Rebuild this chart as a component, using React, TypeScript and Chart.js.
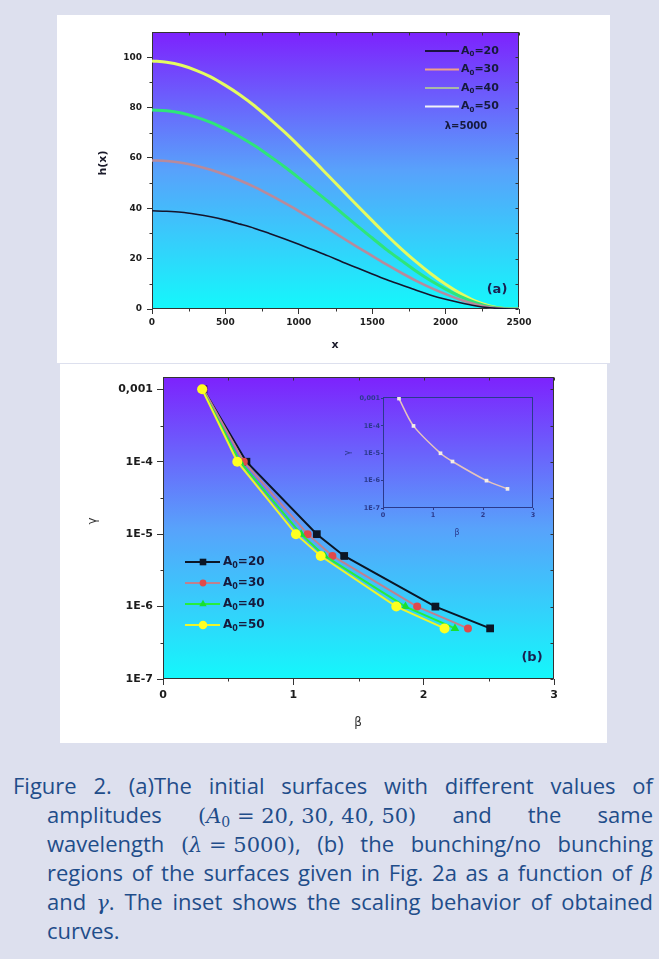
import React, { useEffect, useRef } from 'react';
import { Chart, registerables } from 'chart.js';
Chart.register(...registerables);

// ---------------- Panel (a) data ----------------
const xA = [0, 100, 200, 300, 400, 500, 600, 700, 800, 900, 1000, 1100, 1200, 1300, 1400, 1500, 1600, 1700, 1800, 1900, 2000, 2100, 2200, 2300, 2400, 2500];
const hA20 = [39, 38.8, 38.4, 37.6, 36.6, 35.3, 33.7, 32.0, 30.0, 27.9, 25.7, 23.4, 21.1, 18.6, 16.3, 13.9, 11.6, 9.5, 7.4, 5.5, 3.9, 2.5, 1.3, 0.5, 0.1, 0];
const hA30 = [59, 58.8, 58.1, 56.9, 55.3, 53.3, 51.0, 48.4, 45.4, 42.2, 38.9, 35.4, 31.9, 28.2, 24.6, 21.1, 17.6, 14.3, 11.2, 8.4, 5.9, 3.7, 1.9, 0.7, 0.1, 0];
const hA40 = [79, 78.7, 77.8, 76.2, 74.1, 71.4, 68.3, 64.8, 60.8, 56.6, 52.1, 47.4, 42.7, 37.8, 32.9, 28.2, 23.5, 19.2, 15.0, 11.2, 7.9, 5.0, 2.6, 0.9, 0.2, 0];
const hA50 = [98.5, 98, 96.8, 94.8, 92.2, 88.8, 85, 80.6, 75.6, 70.4, 64.8, 59, 53, 47, 41, 35.1, 29.3, 23.8, 18.7, 14, 9.8, 6.2, 3.2, 1.2, 0.2, 0];
const amplitudes = [20, 30, 40, 50];
const xTicksA = [0, 500, 1000, 1500, 2000, 2500];
const xMinorA = [250, 750, 1250, 1750, 2250];
const yTicksA = [0, 20, 40, 60, 80, 100];
const yMinorA = [10, 30, 50, 70, 90];

// ---------------- Panel (b) data ----------------
const betaA20 = [0.31, 0.64, 1.18, 1.39, 2.09, 2.51];
const betaA30 = [0.31, 0.62, 1.11, 1.30, 1.95, 2.34];
const betaA40 = [0.30, 0.59, 1.06, 1.24, 1.86, 2.24];
const betaA50 = [0.30, 0.57, 1.02, 1.21, 1.79, 2.16];
const gammaLevels = [1e-3, 1e-4, 1e-5, 5e-6, 1e-6, 5e-7];
const betaTicks = [0, 1, 2, 3];
const betaMinor = [0.5, 1.5, 2.5];
const gammaTickValues = [1e-7, 1e-6, 1e-5, 1e-4, 1e-3];
const gammaTickLabels = ['1E-7', '1E-6', '1E-5', '1E-4', '0,001'];
const gammaMinor = [3.16e-7, 3.16e-6, 3.16e-5, 3.16e-4];

// ---------------- Inset data ----------------
const betaInset = [0.32, 0.61, 1.15, 1.39, 2.07, 2.49];
const gammaInset = [1e-3, 1e-4, 1e-5, 5e-6, 1e-6, 5e-7];

// ---------------- styles ----------------
const styleA = [
  { line: '#15142c', width: 1.6 },
  { line: '#b88a9c', width: 2.6 },
  { line: '#2ee57a', width: 3 },
  { line: '#e4fb62', width: 3 },
];
const legendLineColorsA = ['#1a1240', '#f0a08a', '#a8b8a8', '#f2f2f6'];
const styleB = [
  { line: '#0b1626', fill: '#0b1626', shape: 'rect', r: 5.5, order: 3 },
  { line: '#c0808e', fill: '#e04a4a', shape: 'circle', r: 4, order: 2 },
  { line: '#26ee3c', fill: '#18e030', shape: 'triangle', r: 5, order: 1 },
  { line: '#eef52a', fill: '#ffff22', shape: 'circle', r: 5, order: 0 },
];

type Pt = { x: number; y: number };
const zip = (xs: number[], ys: number[]): Pt[] => xs.map((x, i) => ({ x, y: ys[i] }));

const GRAD: [number, string][] = [[0, '#7d22fd'], [0.5, '#58a2fb'], [1, '#14f8fb']];

function gradientPlugin(stops: [number, string][]) {
  return {
    id: 'gradientBg',
    beforeDraw(chart: any) {
      const { ctx, chartArea: a } = chart;
      const g = ctx.createLinearGradient(0, a.top, 0, a.bottom);
      stops.forEach(([o, c]) => g.addColorStop(o, c));
      ctx.save();
      ctx.fillStyle = g;
      ctx.fillRect(a.left, a.top, a.right - a.left, a.bottom - a.top);
      ctx.restore();
    },
  };
}

function framePlugin(o: { color: string; xMajor: number[]; xMinor: number[]; yMajor: number[]; yMinor: number[]; outMinor: number; inLen: number }) {
  return {
    id: 'frame',
    beforeDatasetsDraw(chart: any) {
      const { ctx, chartArea: a, scales } = chart;
      const xs = scales.x, ys = scales.y;
      const L = Math.round(a.left) + 0.5, R = Math.round(a.right) - 0.5;
      const T = Math.round(a.top) + 0.5, B = Math.round(a.bottom) - 0.5;
      ctx.save();
      ctx.strokeStyle = o.color;
      ctx.lineWidth = 1;
      ctx.strokeRect(L, T, R - L, B - T);
      ctx.beginPath();
      o.xMinor.forEach((v) => {
        const px = Math.round(xs.getPixelForValue(v)) + 0.5;
        ctx.moveTo(px, B); ctx.lineTo(px, B + o.outMinor);
      });
      o.yMinor.forEach((v) => {
        const py = Math.round(ys.getPixelForValue(v)) + 0.5;
        ctx.moveTo(L, py); ctx.lineTo(L - o.outMinor, py);
      });
      if (o.inLen > 0) {
        [...o.xMajor, ...o.xMinor].forEach((v) => {
          const px = Math.round(xs.getPixelForValue(v)) + 0.5;
          ctx.moveTo(px, T); ctx.lineTo(px, T + o.inLen);
        });
        [...o.yMajor, ...o.yMinor].forEach((v) => {
          const py = Math.round(ys.getPixelForValue(v)) + 0.5;
          ctx.moveTo(R, py); ctx.lineTo(R - o.inLen, py);
        });
      }
      ctx.stroke();
      ctx.restore();
    },
  };
}

type TextItem = { text: string; x: number; y: number; font: string; color: string; rotate?: number };
function textPlugin(items: TextItem[]) {
  return {
    id: 'texts',
    afterDraw(chart: any) {
      const ctx = chart.ctx;
      items.forEach((t) => {
        ctx.save();
        ctx.translate(t.x, t.y);
        if (t.rotate) ctx.rotate(t.rotate);
        ctx.font = t.font;
        ctx.fillStyle = t.color;
        ctx.textAlign = 'center';
        ctx.textBaseline = 'middle';
        ctx.fillText(t.text, 0, 0);
        ctx.restore();
      });
    },
  };
}

function drawA0(ctx: CanvasRenderingContext2D, x: number, y: number, amp: number, size: number, subSize: number, color: string) {
  ctx.fillStyle = color;
  ctx.textAlign = 'left';
  ctx.textBaseline = 'middle';
  ctx.font = `bold ${size}px "DejaVu Sans"`;
  ctx.fillText('A', x, y);
  const w1 = ctx.measureText('A').width;
  ctx.font = `bold ${subSize}px "DejaVu Sans"`;
  ctx.fillText('0', x + w1, y + size * 0.3);
  const w2 = ctx.measureText('0').width;
  ctx.font = `bold ${size}px "DejaVu Sans"`;
  ctx.fillText('=' + amp, x + w1 + w2, y);
}

function legendAPlugin(o: { x1: number; x2: number; textX: number; rows: number[]; lamX: number; lamY: number }) {
  return {
    id: 'legendA',
    afterDraw(chart: any) {
      const ctx = chart.ctx;
      ctx.save();
      chart.data.datasets.forEach((ds: any, i: number) => {
        const y = o.rows[i];
        ctx.strokeStyle = legendLineColorsA[i];
        ctx.lineWidth = 2;
        ctx.beginPath(); ctx.moveTo(o.x1, y); ctx.lineTo(o.x2, y); ctx.stroke();
        drawA0(ctx, o.textX, y, amplitudes[i], 11, 7, '#161a3c');
      });
      ctx.font = 'bold 10px "DejaVu Sans"';
      ctx.textAlign = 'center';
      ctx.fillStyle = '#161a3c';
      ctx.fillText('λ=5000', o.lamX, o.lamY);
      ctx.restore();
    },
  };
}

function drawMarker(ctx: CanvasRenderingContext2D, shape: string, x: number, y: number, r: number, color: string) {
  ctx.fillStyle = color;
  ctx.beginPath();
  if (shape === 'rect') {
    const s = r * Math.SQRT1_2;
    ctx.rect(x - s, y - s, 2 * s, 2 * s);
  } else if (shape === 'triangle') {
    ctx.moveTo(x, y - r);
    ctx.lineTo(x + r * 0.866, y + r * 0.5);
    ctx.lineTo(x - r * 0.866, y + r * 0.5);
    ctx.closePath();
  } else {
    ctx.arc(x, y, r, 0, Math.PI * 2);
  }
  ctx.fill();
}

function legendBPlugin(o: { x1: number; x2: number; mx: number; textX: number; rows: number[] }) {
  return {
    id: 'legendB',
    afterDraw(chart: any) {
      const ctx = chart.ctx;
      ctx.save();
      styleB.forEach((s, i) => {
        const y = o.rows[i];
        ctx.strokeStyle = s.line;
        ctx.lineWidth = 2;
        ctx.beginPath(); ctx.moveTo(o.x1, y); ctx.lineTo(o.x2, y); ctx.stroke();
        drawMarker(ctx, s.shape, o.mx, y, s.r * 0.85, s.fill);
        drawA0(ctx, o.textX, y, amplitudes[i], 12, 8, '#161a3c');
      });
      ctx.restore();
    },
  };
}

const tickFont = (size: number) => ({ family: 'DejaVu Sans', size, weight: 'bold' as const });
const plain = (v: any) => String(v);

function makeA() {
  const W = 553, H = 348, l = 95, t = 17, r = 462, b = 294;
  const sets = [hA20, hA30, hA40, hA50];
  return {
    type: 'line',
    data: {
      datasets: sets.map((h, i) => ({
        label: 'A0=' + amplitudes[i],
        data: zip(xA, h),
        borderColor: styleA[i].line,
        borderWidth: styleA[i].width,
        pointRadius: 0,
        cubicInterpolationMode: 'monotone',
        fill: false,
      })),
    },
    options: {
      responsive: false,
      animation: false,
      devicePixelRatio: 1,
      layout: { padding: { left: 0, top: t, right: W - r, bottom: 0 } },
      plugins: { legend: { display: false }, tooltip: { enabled: false } },
      scales: {
        x: {
          type: 'linear', min: 0, max: 2500,
          afterFit: (s: any) => { s.height = H - b; },
          afterBuildTicks: (s: any) => { s.ticks = xTicksA.map((v) => ({ value: v })); },
          ticks: { font: tickFont(9), color: '#1c1c1c', padding: 3, maxRotation: 0, autoSkip: false, callback: plain },
          grid: { drawOnChartArea: false, drawTicks: true, tickLength: 5, color: '#333' },
          border: { display: false },
        },
        y: {
          type: 'linear', min: 0, max: 110,
          afterFit: (s: any) => { s.width = l; },
          afterBuildTicks: (s: any) => { s.ticks = yTicksA.map((v) => ({ value: v })); },
          ticks: { font: tickFont(9), color: '#1c1c1c', padding: 5, autoSkip: false, callback: plain },
          grid: { drawOnChartArea: false, drawTicks: true, tickLength: 5, color: '#333' },
          border: { display: false },
        },
      },
    },
    plugins: [
      gradientPlugin(GRAD),
      framePlugin({ color: '#333', xMajor: xTicksA, xMinor: xMinorA, yMajor: yTicksA, yMinor: yMinorA, outMinor: 3, inLen: 3 }),
      legendAPlugin({ x1: 368, x2: 402, textX: 404, rows: [36, 54.5, 73, 91.5], lamX: 409, lamY: 111 }),
      textPlugin([
        { text: 'h(x)', x: 46, y: 148, font: 'bold 11px "DejaVu Sans"', color: '#1a1a2a', rotate: -Math.PI / 2 },
        { text: 'x', x: 278, y: 330, font: 'bold 11px "DejaVu Sans"', color: '#1a1a2a' },
        { text: '(a)', x: 440, y: 275, font: 'bold 13px "DejaVu Sans"', color: '#1a2050' },
      ]),
    ],
  };
}

function makeB() {
  const W = 547, H = 379, l = 103, t = 13, r = 494, b = 315;
  const betas = [betaA20, betaA30, betaA40, betaA50];
  return {
    type: 'line',
    data: {
      datasets: betas.map((bs, i) => ({
        label: 'A0=' + amplitudes[i],
        data: zip(bs, gammaLevels),
        borderColor: styleB[i].line,
        borderWidth: 2,
        pointStyle: styleB[i].shape,
        pointRadius: styleB[i].r,
        pointBackgroundColor: styleB[i].fill,
        pointBorderColor: styleB[i].fill,
        pointBorderWidth: 0,
        order: styleB[i].order,
        tension: 0,
        fill: false,
      })),
    },
    options: {
      responsive: false,
      animation: false,
      devicePixelRatio: 1,
      layout: { padding: { left: 0, top: t, right: W - r, bottom: 0 } },
      plugins: { legend: { display: false }, tooltip: { enabled: false } },
      scales: {
        x: {
          type: 'linear', min: 0, max: 3,
          afterFit: (s: any) => { s.height = H - b; },
          afterBuildTicks: (s: any) => { s.ticks = betaTicks.map((v) => ({ value: v })); },
          ticks: { font: tickFont(11), color: '#1c1c1c', padding: 4, maxRotation: 0, autoSkip: false, callback: plain },
          grid: { drawOnChartArea: false, drawTicks: true, tickLength: 6, color: '#333' },
          border: { display: false },
        },
        y: {
          type: 'logarithmic', min: 1e-7, max: 1.48e-3,
          afterFit: (s: any) => { s.width = l; },
          afterBuildTicks: (s: any) => { s.ticks = gammaTickValues.map((v) => ({ value: v })); },
          ticks: { font: tickFont(11), color: '#1c1c1c', padding: 4, autoSkip: false, callback: (_v: any, i: number) => gammaTickLabels[i] },
          grid: { drawOnChartArea: false, drawTicks: true, tickLength: 6, color: '#333' },
          border: { display: false },
        },
      },
    },
    plugins: [
      gradientPlugin(GRAD),
      framePlugin({ color: '#333', xMajor: betaTicks, xMinor: betaMinor, yMajor: gammaTickValues, yMinor: gammaMinor, outMinor: 3, inLen: 3 }),
      legendBPlugin({ x1: 125, x2: 160, mx: 143, textX: 163, rows: [198, 219, 240, 261] }),
      textPlugin([
        { text: 'γ', x: 33, y: 157, font: '12px "DejaVu Sans"', color: '#333', rotate: -Math.PI / 2 },
        { text: 'β', x: 298, y: 359, font: '12px "DejaVu Sans"', color: '#333' },
        { text: '(b)', x: 472, y: 294, font: 'bold 13px "DejaVu Sans"', color: '#1a2050' },
      ]),
    ],
  };
}

function makeInset() {
  const W = 210, H = 150, l = 48, t = 7, r = 198, b = 118;
  const c = '#2b3a8c';
  return {
    type: 'line',
    data: {
      datasets: [{
        label: 'scaled',
        data: zip(betaInset, gammaInset),
        borderColor: '#e6c4bc',
        borderWidth: 1.5,
        pointStyle: 'rect',
        pointRadius: 2.6,
        pointBackgroundColor: '#f4eee6',
        pointBorderWidth: 0,
        tension: 0.3,
        fill: false,
      }],
    },
    options: {
      responsive: false,
      animation: false,
      devicePixelRatio: 1,
      layout: { padding: { left: 0, top: t, right: W - r, bottom: 0 } },
      plugins: { legend: { display: false }, tooltip: { enabled: false } },
      scales: {
        x: {
          type: 'linear', min: 0, max: 3,
          afterFit: (s: any) => { s.height = H - b; },
          afterBuildTicks: (s: any) => { s.ticks = betaTicks.map((v) => ({ value: v })); },
          ticks: { font: tickFont(6.5), color: c, padding: 1, maxRotation: 0, autoSkip: false, callback: plain },
          grid: { drawOnChartArea: false, drawTicks: true, tickLength: 2, color: c },
          border: { display: false },
        },
        y: {
          type: 'logarithmic', min: 1e-7, max: 1.14e-3,
          afterFit: (s: any) => { s.width = l; },
          afterBuildTicks: (s: any) => { s.ticks = gammaTickValues.map((v) => ({ value: v })); },
          ticks: { font: tickFont(6.5), color: c, padding: 1, autoSkip: false, callback: (_v: any, i: number) => gammaTickLabels[i] },
          grid: { drawOnChartArea: false, drawTicks: true, tickLength: 2, color: c },
          border: { display: false },
        },
      },
    },
    plugins: [
      framePlugin({ color: c, xMajor: betaTicks, xMinor: [], yMajor: gammaTickValues, yMinor: [], outMinor: 0, inLen: 0 }),
      textPlugin([
        { text: 'γ', x: 13, y: 63, font: '8px "DejaVu Sans"', color: c, rotate: -Math.PI / 2 },
        { text: 'β', x: 122, y: 143, font: '8px "DejaVu Sans"', color: c },
      ]),
    ],
  };
}

function ChartCanvas({ width, height, make }: { width: number; height: number; make: () => any }) {
  const ref = useRef<HTMLCanvasElement>(null);
  useEffect(() => {
    const chart = new Chart(ref.current as HTMLCanvasElement, make());
    return () => chart.destroy();
  }, []);
  return <canvas ref={ref} width={width} height={height} style={{ display: 'block', width, height }} />;
}

const CAP_COLOR = '#1f4d8a';
const mathStyle: React.CSSProperties = { fontFamily: '"DejaVu Serif", serif', fontSize: 21, display: 'inline-block' };
const subStyle: React.CSSProperties = { fontSize: 14, verticalAlign: '-4px', lineHeight: 0 };

function CapLine({ top, left, last, children }: { top: number; left: number; last?: boolean; children: React.ReactNode }) {
  return (
    <div
      style={{
        position: 'absolute', top, left, width: 653 - left,
        fontFamily: '"Open Sans", sans-serif', fontSize: 22, lineHeight: '29px', color: CAP_COLOR,
        textAlign: last ? 'left' : 'justify', textAlignLast: last ? 'left' : 'justify',
      } as React.CSSProperties}
    >
      {children}
    </div>
  );
}

export default function App() {
  return (
    <div style={{ position: 'absolute', left: 0, top: 0, width: 659, height: 959, background: '#dde0ee', overflow: 'hidden' }}>
      <div style={{ position: 'absolute', left: 57, top: 15, width: 553, height: 348, background: '#fff' }}>
        <ChartCanvas width={553} height={348} make={makeA} />
      </div>
      <div style={{ position: 'absolute', left: 60, top: 364, width: 547, height: 379, background: '#fff' }}>
        <ChartCanvas width={547} height={379} make={makeB} />
      </div>
      <div style={{ position: 'absolute', left: 335, top: 390, width: 210, height: 150 }}>
        <ChartCanvas width={210} height={150} make={makeInset} />
      </div>
      <CapLine top={771} left={13}>Figure 2. (a)The initial surfaces with different values of</CapLine>
      <CapLine top={800} left={47}>
        amplitudes{' '}
        <span style={mathStyle}>(<i>A</i><sub style={subStyle}>0</sub> = 20, 30, 40, 50)</span>{' '}
        and the same
      </CapLine>
      <CapLine top={829} left={47}>
        wavelength{' '}
        <span style={mathStyle}>(<i>λ</i> = 5000)</span>, (b) the bunching/no bunching
      </CapLine>
      <CapLine top={858} left={47}>
        regions of the surfaces given in Fig. 2a as a function of <span style={mathStyle}><i>β</i></span>
      </CapLine>
      <CapLine top={887} left={47}>
        and <span style={mathStyle}><i>γ</i></span>. The inset shows the scaling behavior of obtained
      </CapLine>
      <CapLine top={916} left={47} last>curves.</CapLine>
    </div>
  );
}
